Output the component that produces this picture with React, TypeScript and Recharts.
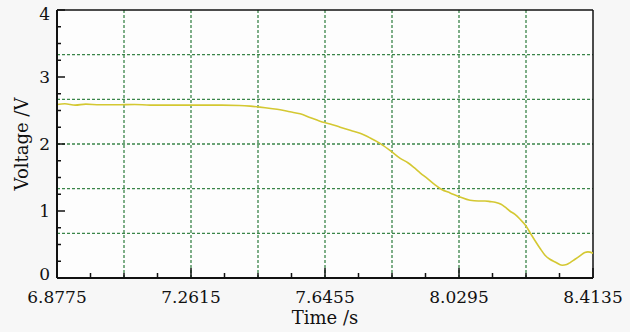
import React from "react";
import {
  LineChart,
  Line,
  XAxis,
  YAxis,
  CartesianGrid,
  ReferenceLine,
} from "recharts";

// Sampled trace: time (s) and measured voltage (V)
const timeS = [
  6.8775, 6.9, 6.93, 6.96, 7.0, 7.05, 7.1, 7.144, 7.2, 7.287, 7.35, 7.4,
  7.431, 7.459, 7.49, 7.517, 7.545, 7.574, 7.6, 7.631, 7.66, 7.689, 7.72,
  7.746, 7.775, 7.803, 7.838, 7.86, 7.883, 7.9, 7.918, 7.94, 7.961, 7.98,
  8.004, 8.032, 8.061, 8.085, 8.104, 8.12, 8.133, 8.15, 8.161, 8.175, 8.19,
  8.204, 8.221, 8.235, 8.247, 8.262, 8.276, 8.29, 8.305, 8.325, 8.338, 8.348,
  8.362, 8.376, 8.39, 8.399, 8.4135,
];
const voltageV = [
  2.59, 2.6, 2.58, 2.595, 2.585, 2.585, 2.59, 2.58, 2.58, 2.58, 2.58, 2.575,
  2.565, 2.55, 2.53, 2.51, 2.48, 2.45, 2.4, 2.34, 2.3, 2.25, 2.2, 2.16, 2.09,
  2.01, 1.88, 1.79, 1.72, 1.65, 1.57, 1.48, 1.39, 1.32, 1.27, 1.21, 1.16,
  1.15, 1.15, 1.14, 1.13, 1.1, 1.06, 1.0, 0.95, 0.88, 0.78, 0.66, 0.56, 0.44,
  0.34, 0.28, 0.24, 0.19, 0.2, 0.23, 0.28, 0.33, 0.38, 0.39, 0.37,
];

const xMajorTicks = [6.8775, 7.2615, 7.6455, 8.0295, 8.4135];
const xTickLabels = ["6.8775", "7.2615", "7.6455", "8.0295", "8.4135"];
const xGridValues = [7.0695, 7.2615, 7.4535, 7.6455, 7.8375, 8.0295, 8.2215];

const yMajorTicks = [0, 1, 2, 3, 4];
const yTickLabels = ["0", "1", "2", "3", "4"];
const yGridValues = [2 / 3, 4 / 3, 2, 8 / 3, 10 / 3];

const X_MIN = 6.8775;
const X_MAX = 8.4135;

// four minor divisions between each pair of major ticks
const withMinors = (majors: number[]) =>
  majors.flatMap((m, i) => {
    if (i === majors.length - 1) return [m];
    const step = (majors[i + 1] - m) / 4;
    return [m, m + step, m + 2 * step, m + 3 * step];
  });

const xTicks = withMinors(xMajorTicks);
const yTicks = withMinors(yMajorTicks);

const data = timeS.map((t, i) => ({ t, v: voltageV[i] }));

const FONT = "'DejaVu Serif', 'Liberation Serif', serif";
const TICK_SIZE = 17;
const LABEL_SIZE = 18;
const AXIS_COLOR = "#111";

const majorIndex = (list: number[], value: number) =>
  list.findIndex((m) => Math.abs(m - value) < 1e-6);

const XTick = (props: any) => {
  const { x, y, payload } = props;
  const idx = majorIndex(xMajorTicks, payload.value);
  const major = idx >= 0;
  return (
    <g>
      <line
        x1={x}
        x2={x}
        y1={y}
        y2={y - (major ? 10 : 5)}
        stroke={AXIS_COLOR}
        strokeWidth={1.5}
      />
      {major && (
        <text
          x={x}
          y={y + 25}
          textAnchor="middle"
          fontFamily={FONT}
          fontSize={TICK_SIZE}
          fill="#111"
        >
          {xTickLabels[idx]}
        </text>
      )}
    </g>
  );
};

const YTick = (props: any) => {
  const { x, y, payload } = props;
  const idx = majorIndex(yMajorTicks, payload.value);
  const major = idx >= 0;
  // end labels sit a little inside the axis range
  let shift = 0;
  if (idx === 0) shift = -4;
  if (idx === yMajorTicks.length - 1) shift = 3.5;
  return (
    <g>
      <line
        x1={x}
        x2={x + (major ? 8 : 4)}
        y1={y}
        y2={y}
        stroke={AXIS_COLOR}
        strokeWidth={1.5}
      />
      {major && (
        <text
          x={x - 7}
          y={y + 6 + shift}
          textAnchor="end"
          fontFamily={FONT}
          fontSize={TICK_SIZE}
          fill="#111"
        >
          {yTickLabels[idx]}
        </text>
      )}
    </g>
  );
};

export default function App() {
  return (
    <div
      style={{
        position: "absolute",
        left: 0,
        top: 0,
        width: 630,
        height: 332,
        background: "#f7f7f7",
      }}
    >
      <LineChart
        width={630}
        height={332}
        data={data}
        margin={{ top: 10, right: 37, bottom: 0, left: 0 }}
      >
        <CartesianGrid
          fill="#fdfdfd"
          stroke="#3a8549"
          strokeDasharray="3 2"
          strokeWidth={1.3}
          horizontalValues={yGridValues}
          verticalValues={xGridValues}
        />
        <XAxis
          dataKey="t"
          type="number"
          domain={[X_MIN, X_MAX]}
          ticks={xTicks}
          interval={0}
          height={54}
          tickSize={0}
          tickMargin={0}
          tickLine={false}
          tick={<XTick />}
          axisLine={{ stroke: AXIS_COLOR, strokeWidth: 2 }}
          allowDataOverflow
          label={(p: any) => {
            const vb = p.viewBox || {};
            return (
              <text
                x={vb.x + vb.width / 2}
                y={324}
                textAnchor="middle"
                fontFamily={FONT}
                fontSize={LABEL_SIZE}
                fill="#111"
              >
                Time /s
              </text>
            );
          }}
        />
        <YAxis
          type="number"
          domain={[0, 4]}
          ticks={yTicks}
          interval={0}
          width={57}
          tickSize={0}
          tickMargin={0}
          tickLine={false}
          tick={<YTick />}
          axisLine={{ stroke: AXIS_COLOR, strokeWidth: 2 }}
          allowDataOverflow
          label={(p: any) => {
            const vb = p.viewBox || {};
            const cx = 28;
            const cy = vb.y + vb.height / 2;
            return (
              <text
                x={cx}
                y={cy}
                transform={`rotate(-90 ${cx} ${cy})`}
                textAnchor="middle"
                fontFamily={FONT}
                fontSize={LABEL_SIZE}
                fill="#111"
              >
                Voltage /V
              </text>
            );
          }}
        />
        <ReferenceLine y={4} stroke={AXIS_COLOR} strokeWidth={1.5} />
        <ReferenceLine x={X_MAX} stroke={AXIS_COLOR} strokeWidth={1.5} />
        <Line
          dataKey="v"
          type="monotone"
          stroke="#d4c832"
          strokeWidth={1.6}
          dot={false}
          isAnimationActive={false}
        />
      </LineChart>
    </div>
  );
}
